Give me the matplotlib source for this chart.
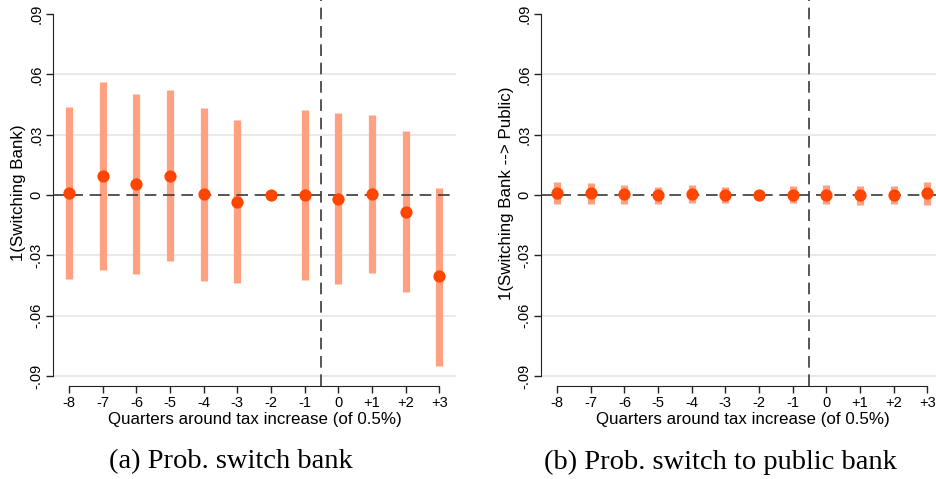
import matplotlib
matplotlib.use("Agg")
import matplotlib.pyplot as plt

# quarters around the tax increase
quarters = [-8, -7, -6, -5, -4, -3, -2, -1, 0, 1, 2, 3]
xticklabels = ["-8", "-7", "-6", "-5", "-4", "-3", "-2", "-1", "0", "+1", "+2", "+3"]
yticks = [-0.09, -0.06, -0.03, 0, 0.03, 0.06, 0.09]
yticklabels = ["-.09", "-.06", "-.03", "0", ".03", ".06", ".09"]

# (a) prob. switch bank
coef_a = [0.0011, 0.0095, 0.0054, 0.0097, 0.0004, -0.0034, 0.0, 0.0001, -0.0019, 0.0004, -0.0084, -0.0405]
lo_a = [-0.0417, -0.0374, -0.0394, -0.0327, -0.0427, -0.0438, 0.0, -0.0423, -0.0441, -0.0390, -0.0481, -0.0851]
hi_a = [0.0437, 0.0564, 0.0503, 0.0520, 0.0433, 0.0374, 0.0, 0.0422, 0.0407, 0.0397, 0.0317, 0.0037]

# (b) prob. switch to public bank
coef_b = [0.0010, 0.0008, 0.0005, -0.0001, 0.0007, -0.0001, 0.0, 0.0002, 0.0002, -0.0001, -0.0001, 0.0008]
lo_b = [-0.0046, -0.0045, -0.0046, -0.0044, -0.0039, -0.0042, 0.0, -0.0039, -0.0046, -0.0048, -0.0044, -0.0051]
hi_b = [0.0063, 0.0058, 0.0052, 0.0042, 0.0052, 0.0039, 0.0, 0.0044, 0.0049, 0.0047, 0.0044, 0.0065]

ylabels = ["1(Switching Bank)", "1(Switching Bank --> Public)"]
captions = ["(a) Prob. switch bank", "(b) Prob. switch to public bank"]
xlabel = "Quarters around tax increase (of 0.5%)"

W, H = 936, 479
fig = plt.figure(figsize=(W / 100, H / 100), dpi=100)
plt.rcParams['font.family'] = ['Liberation Sans', 'DejaVu Sans']

axes_px = [53, 541]   # left spine in pixels
caption_x = [231, 720]
data = [(coef_a, lo_a, hi_a), (coef_b, lo_b, hi_b)]

for i in range(2):
    coef, lo, hi = data[i]
    ax = fig.add_axes([axes_px[i] / W, (H - 386) / H, 403 / W, 386 / H])
    ax.set_xlim(-8.48, 3.5)
    ax.set_ylim(-0.095, 0.097)

    for g in [-0.09, -0.06, -0.03, 0.03, 0.06]:
        ax.axhline(g, color="#e3e3e3", lw=1.1, zorder=0)

    ax.vlines(quarters, lo, hi, color="#ffa080", lw=5.2, zorder=2)
    ax.axhline(0, color="#3a3a3a", lw=1.2, dashes=(7, 4), zorder=3)
    ax.axvline(-0.5, color="#3a3a3a", lw=1.2, dashes=(7, 4), zorder=3)
    ax.plot(quarters, coef, "o", color="#ff4500", ms=8.8, mec="none", zorder=4)

    for s in ["top", "right"]:
        ax.spines[s].set_visible(False)
    ax.spines["left"].set_bounds(-0.09, 0.09)
    ax.spines["bottom"].set_bounds(-8, 3)
    ax.spines["left"].set_color("#222222")
    ax.spines["bottom"].set_color("#222222")

    ax.set_xticks(quarters)
    ax.set_xticklabels(xticklabels, fontsize=10.5)
    ax.set_yticks(yticks)
    ax.set_yticklabels(yticklabels, fontsize=10.5, rotation=90, va="center")
    ax.tick_params(length=5, width=1, color="#222222", pad=2)
    ax.set_xlabel(xlabel, fontsize=12.2, labelpad=1.5)
    ax.set_ylabel(ylabels[i], fontsize=12.2, labelpad=2)

    fig.text(caption_x[i] / W, 1 - 462 / H, captions[i], family="Liberation Serif",
             fontsize=20.5, ha="center", va="center")

fig.savefig("out.png", dpi=100)
